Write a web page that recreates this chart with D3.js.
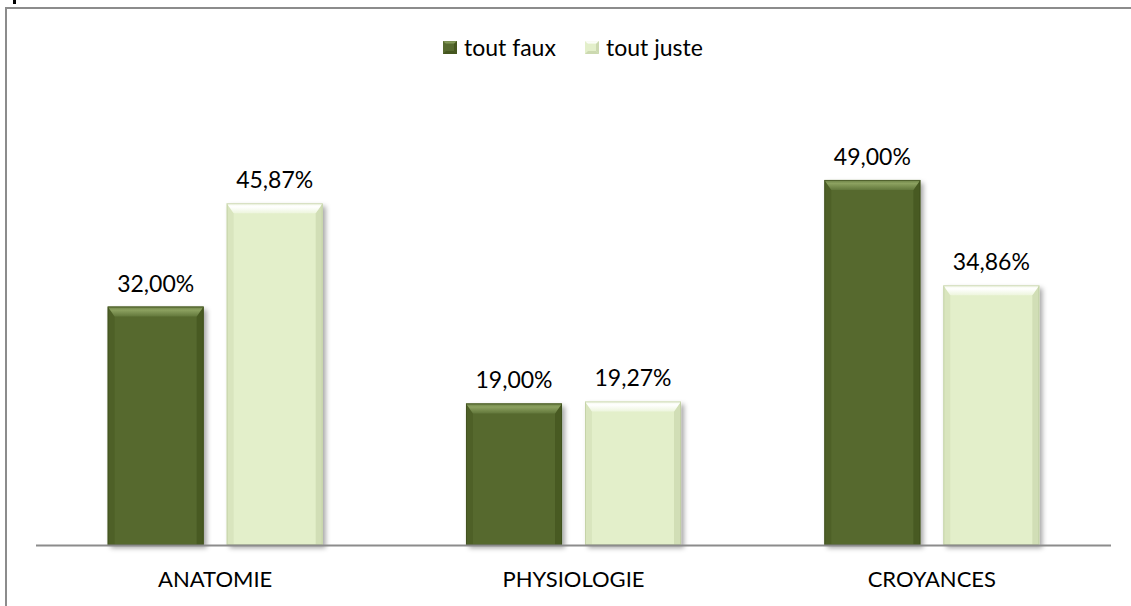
<!DOCTYPE html>
<html><head><meta charset="utf-8">
<script src="https://cdn.jsdelivr.net/npm/d3@7"></script>
<style>
html,body{margin:0;padding:0;background:#fff;}
svg{display:block;font-family:Lato,"Open Sans",sans-serif;}
</style></head>
<body>
<svg id="chart" width="1131" height="606"></svg>
<script>
const categories = ["ANATOMIE", "PHYSIOLOGIE", "CROYANCES"];
const seriesNames = ["tout faux", "tout juste"];
const toutFaux = [32.00, 19.00, 49.00];
const toutJuste = [45.87, 19.27, 34.86];
const valueLabels = [["32,00%", "19,00%", "49,00%"], ["45,87%", "19,27%", "34,86%"]];

const seriesValues = [toutFaux, toutJuste];
const colors = {
  "tout faux": {base: "#56692f", t1: "#6a7f43", t2: "#8ca160", t3: "#62773b", side: "#45561f", edge: "#3a4a1a"},
  "tout juste": {base: "#e3efca", t1: "#f3f8e8", t2: "#ffffff", t3: "#edf5dd", side: "#ccd9b0", edge: "#b8c79a"}
};

const svg = d3.select("#chart");
const defs = svg.append("defs");
const f = defs.append("filter").attr("id","sh").attr("x","-20%").attr("y","-20%").attr("width","150%").attr("height","150%");
f.append("feDropShadow").attr("dx",3).attr("dy",3).attr("stdDeviation",2.5).attr("flood-color","#000").attr("flood-opacity",0.35);
seriesNames.forEach((s, i) => {
  const c = colors[s];
  const lg = defs.append("linearGradient").attr("id","tg"+i).attr("x1",0).attr("y1",0).attr("x2",0).attr("y2",1);
  lg.append("stop").attr("offset","0%").attr("stop-color",c.t1);
  lg.append("stop").attr("offset","35%").attr("stop-color",c.t2);
  lg.append("stop").attr("offset","100%").attr("stop-color",c.t3);
});

// frame
svg.append("line").attr("x1",6).attr("x2",6).attr("y1",7).attr("y2",606).attr("stroke","#8c8c8c").attr("stroke-width",2);
svg.append("line").attr("x1",5).attr("x2",1131).attr("y1",8).attr("y2",8).attr("stroke","#8c8c8c").attr("stroke-width",2);
svg.append("rect").attr("x",13).attr("y",0).attr("width",3).attr("height",4).attr("fill","#000");

const plotLeft = 36, plotRight = 1111, baseY = 545;
const x0 = d3.scaleBand().domain(categories).range([plotLeft, plotRight]).paddingInner(0).paddingOuter(0);
const x1 = d3.scaleBand().domain(seriesNames).range([0, x0.bandwidth()]).paddingInner(0.193).paddingOuter(0.602);
const y = d3.scaleLinear().domain([0, 60]).range([baseY, 98]);

const g = svg.append("g");
const bev = 10, sb = 7;
seriesNames.forEach((s, si) => {
  const c = colors[s];
  categories.forEach((cat, ci) => {
    const v = seriesValues[si][ci];
    const bx = x0(cat) + x1(s), bw = x1.bandwidth();
    const by = y(v), bh = baseY - y(v);
    const bg = g.append("g");
    bg.append("rect").attr("x",bx).attr("y",by).attr("width",bw).attr("height",bh)
      .attr("fill",c.base).attr("filter","url(#sh)");
    bg.append("polygon").attr("points",[[bx,by],[bx+sb,by+bev],[bx+sb,baseY],[bx,baseY]].join(" "))
      .attr("fill",c.side).attr("opacity",0.45);
    bg.append("polygon").attr("points",[[bx+bw,by],[bx+bw-sb,by+bev],[bx+bw-sb,baseY],[bx+bw,baseY]].join(" "))
      .attr("fill",c.side).attr("opacity",0.8);
    bg.append("polygon").attr("points",[[bx,by],[bx+bw,by],[bx+bw-sb,by+bev],[bx+sb,by+bev]].join(" "))
      .attr("fill",`url(#tg${si})`);
    bg.append("rect").attr("x",bx+0.5).attr("y",by+0.5).attr("width",bw-1).attr("height",bh-1)
      .attr("fill","none").attr("stroke",c.edge).attr("stroke-width",1).attr("opacity",0.6);
    g.append("text").attr("x",bx+bw/2).attr("y",by-15).attr("text-anchor","middle")
      .attr("font-size",23).attr("fill","#000").text(valueLabels[si][ci]);
  });
});

// baseline
svg.append("line").attr("x1",plotLeft).attr("x2",plotRight).attr("y1",baseY+0.5).attr("y2",baseY+0.5)
  .attr("stroke","#8c8c8c").attr("stroke-width",2);

// category axis labels
const xAxis = d3.axisBottom(x0).tickSize(0).tickPadding(0);
const ax = svg.append("g").attr("transform",`translate(0,${baseY})`).call(xAxis);
ax.select(".domain").remove();
ax.selectAll("text").attr("font-size",22).attr("fill","#000").attr("font-family","Lato,'Open Sans',sans-serif")
  .attr("dy",0).attr("y",42);

// legend
const legendItems = [{name:"tout faux", x:443},{name:"tout juste", x:585}];
legendItems.forEach((li, i) => {
  const c = colors[li.name];
  const lg = svg.append("g").attr("transform",`translate(${li.x},41)`);
  lg.append("rect").attr("width",14).attr("height",13).attr("fill",c.base);
  lg.append("polygon").attr("points","0,0 14,0 11,3 3,3").attr("fill",`url(#tg${i})`);
  lg.append("polygon").attr("points","14,0 14,13 11,10 11,3").attr("fill",c.side);
  lg.append("polygon").attr("points","0,13 14,13 11,10 3,10").attr("fill",c.side);
  lg.append("text").attr("x",21).attr("y",15).attr("font-size",23).attr("fill","#000").text(li.name);
});
</script>
</body></html>
